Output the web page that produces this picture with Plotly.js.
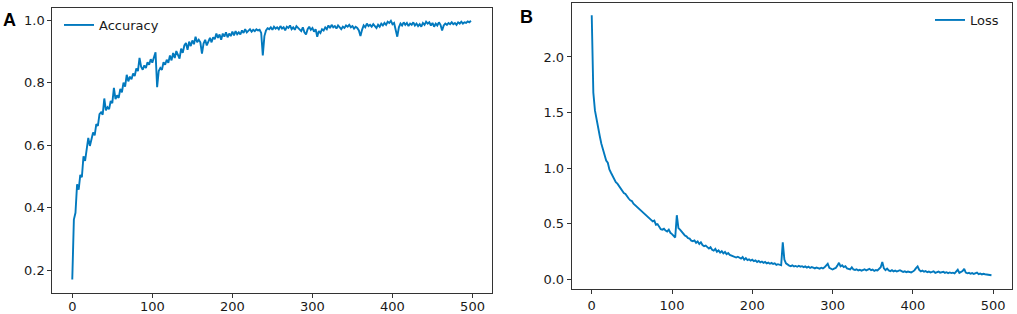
<!DOCTYPE html>
<html>
<head>
<meta charset="utf-8">
<script src="https://cdn.plot.ly/plotly-3.0.1.min.js"></script>
<style>
html,body{margin:0;padding:0;background:#fff;}
#chart{width:1017px;height:314px;}
</style>
</head>
<body>
<div id="chart"></div>
<script>
// ---- data ----
const epochs = [
  0,2,4,6,8,10,12,14,16,18,
  20,22,24,26,28,30,32,34,36,38,
  40,42,44,46,48,50,52,54,56,58,
  60,62,64,66,68,70,72,74,76,78,
  80,82,84,86,88,90,92,94,96,98,
  100,102,104,106,108,110,112,114,116,118,
  120,122,124,126,128,130,132,134,136,138,
  140,142,144,146,148,150,152,154,156,158,
  160,162,164,166,168,170,172,174,176,178,
  180,182,184,186,188,190,192,194,196,198,
  200,202,204,206,208,210,212,214,216,218,
  220,222,224,226,228,230,232,234,236,238,
  240,242,244,246,248,250,252,254,256,258,
  260,262,264,266,268,270,272,274,276,278,
  280,282,284,286,288,290,292,294,296,298,
  300,302,304,306,308,310,312,314,316,318,
  320,322,324,326,328,330,332,334,336,338,
  340,342,344,346,348,350,352,354,356,358,
  360,362,364,366,368,370,372,374,376,378,
  380,382,384,386,388,390,392,394,396,398,
  400,402,404,406,408,410,412,414,416,418,
  420,422,424,426,428,430,432,434,436,438,
  440,442,444,446,448,450,452,454,456,458,
  460,462,464,466,468,470,472,474,476,478,
  480,482,484,486,488,490,492,494,496,498
];

const accuracy = [
  0.170,0.362,0.384,0.475,0.458,0.505,0.498,0.565,0.550,0.590,
  0.624,0.598,0.625,0.641,0.632,0.668,0.662,0.700,0.706,0.698,
  0.750,0.712,0.722,0.716,0.742,0.735,0.784,0.748,0.760,0.752,
  0.781,0.770,0.801,0.788,0.826,0.805,0.820,0.812,0.830,0.822,
  0.846,0.838,0.880,0.852,0.842,0.856,0.848,0.866,0.858,0.876,
  0.865,0.886,0.898,0.786,0.838,0.848,0.842,0.866,0.858,0.874,
  0.864,0.888,0.872,0.896,0.880,0.902,0.888,0.878,0.910,0.896,
  0.920,0.928,0.906,0.932,0.918,0.936,0.924,0.948,0.930,0.938,
  0.930,0.894,0.926,0.938,0.920,0.934,0.944,0.930,0.946,0.940,
  0.958,0.944,0.955,0.938,0.958,0.948,0.962,0.946,0.958,0.950,
  0.964,0.952,0.966,0.956,0.962,0.955,0.968,0.960,0.972,0.962,
  0.966,0.972,0.964,0.970,0.966,0.972,0.968,0.970,0.960,0.888,
  0.950,0.968,0.975,0.972,0.978,0.970,0.980,0.974,0.978,0.972,
  0.982,0.974,0.978,0.968,0.980,0.976,0.984,0.972,0.978,0.970,
  0.982,0.976,0.972,0.966,0.978,0.962,0.955,0.972,0.980,0.970,
  0.976,0.964,0.972,0.948,0.966,0.960,0.972,0.968,0.978,0.972,
  0.984,0.976,0.986,0.978,0.982,0.974,0.984,0.978,0.972,0.980,
  0.976,0.984,0.980,0.986,0.978,0.982,0.974,0.980,0.976,0.968,
  0.950,0.970,0.984,0.978,0.990,0.982,0.986,0.980,0.988,0.982,
  0.976,0.986,0.980,0.990,0.984,0.992,0.986,0.996,0.992,0.999,
  0.988,0.992,0.972,0.948,0.978,0.990,0.984,0.994,0.986,0.992,
  0.982,0.990,0.986,0.994,0.984,0.990,0.982,0.988,0.980,0.992,
  0.986,0.996,0.990,0.994,0.984,0.992,0.980,0.990,0.984,0.994,
  0.986,0.968,0.984,0.990,0.986,0.992,0.988,0.994,0.988,0.992,
  0.986,0.994,0.990,0.996,0.990,0.994,0.992,0.997,0.994,0.999
];

const loss = [
  2.375,1.680,1.520,1.430,1.350,1.290,1.220,1.170,1.110,1.070,
  1.050,0.990,0.960,0.930,0.905,0.875,0.862,0.840,0.815,0.800,
  0.778,0.770,0.745,0.728,0.712,0.705,0.682,0.668,0.660,0.642,
  0.628,0.620,0.598,0.590,0.575,0.555,0.550,0.535,0.522,0.530,
  0.492,0.498,0.470,0.452,0.448,0.456,0.440,0.432,0.448,0.420,
  0.408,0.392,0.378,0.578,0.462,0.448,0.430,0.410,0.396,0.388,
  0.372,0.368,0.350,0.345,0.352,0.330,0.342,0.320,0.335,0.310,
  0.300,0.305,0.288,0.278,0.290,0.268,0.260,0.275,0.250,0.262,
  0.242,0.255,0.235,0.248,0.228,0.238,0.222,0.215,0.210,0.202,
  0.198,0.205,0.192,0.188,0.202,0.178,0.192,0.175,0.182,0.170,
  0.178,0.165,0.172,0.158,0.168,0.155,0.162,0.150,0.158,0.145,
  0.152,0.142,0.150,0.140,0.145,0.132,0.138,0.130,0.128,0.335,
  0.180,0.145,0.132,0.125,0.120,0.128,0.118,0.122,0.115,0.124,
  0.116,0.120,0.112,0.118,0.108,0.116,0.104,0.112,0.106,0.100,
  0.108,0.102,0.098,0.106,0.100,0.110,0.130,0.142,0.105,0.096,
  0.090,0.098,0.104,0.125,0.150,0.118,0.128,0.112,0.120,0.100,
  0.094,0.092,0.110,0.090,0.086,0.092,0.082,0.088,0.080,0.086,
  0.092,0.082,0.090,0.096,0.084,0.090,0.078,0.086,0.082,0.092,
  0.110,0.158,0.100,0.084,0.098,0.082,0.076,0.084,0.074,0.080,
  0.072,0.078,0.084,0.076,0.068,0.074,0.066,0.072,0.070,0.064,
  0.072,0.082,0.102,0.118,0.086,0.074,0.080,0.070,0.076,0.066,
  0.072,0.064,0.068,0.074,0.060,0.066,0.072,0.062,0.068,0.070,
  0.060,0.066,0.058,0.064,0.058,0.062,0.056,0.078,0.088,0.060,
  0.066,0.076,0.096,0.062,0.056,0.060,0.052,0.058,0.050,0.056,
  0.062,0.048,0.054,0.046,0.052,0.048,0.044,0.046,0.040,0.038
];

const xTicks = [0, 100, 200, 300, 400, 500];
const accTicks = [0.2, 0.4, 0.6, 0.8, 1.0];
const lossTicks = [0.0, 0.5, 1.0, 1.5, 2.0];
const panelLabels = ['A', 'B'];
const seriesNames = ['Accuracy', 'Loss'];

// ---- styling ----
const W = 1017, H = 314;
const LINE = '#0279be';
const AX = '#333333';
const tickFont = {family: 'DejaVu Sans', size: 13, color: '#1a1a1a'};

function px2x(p) { return p / W; }
function px2y(p) { return (H - p) / H; }

const baseAxis = {
  showline: true, mirror: true, linecolor: AX, linewidth: 1,
  ticks: 'outside', ticklen: 4, tickwidth: 1, tickcolor: AX,
  showgrid: false, zeroline: false, tickfont: tickFont, fixedrange: true
};

const traces = [
  {x: epochs, y: accuracy, type: 'scatter', mode: 'lines', name: seriesNames[0],
   line: {color: LINE, width: 1.9}, xaxis: 'x', yaxis: 'y', legend: 'legend'},
  {x: epochs, y: loss, type: 'scatter', mode: 'lines', name: seriesNames[1],
   line: {color: LINE, width: 1.9}, xaxis: 'x2', yaxis: 'y2', legend: 'legend2'}
];

const layout = {
  width: W, height: H,
  margin: {l: 0, r: 0, t: 0, b: 0},
  paper_bgcolor: '#ffffff', plot_bgcolor: '#ffffff',
  showlegend: true,
  xaxis: Object.assign({}, baseAxis, {
    domain: [px2x(52.3), px2x(491.7)], range: [-24.95, 523.95],
    tickvals: xTicks, anchor: 'y', ticklabelstandoff: -2
  }),
  yaxis: Object.assign({}, baseAxis, {
    domain: [px2y(292.5), px2y(7.5)], range: [0.1285, 1.0415],
    tickvals: accTicks, tickformat: '.1f', anchor: 'x'
  }),
  xaxis2: Object.assign({}, baseAxis, {
    domain: [px2x(571.7), px2x(1012.3)], range: [-24.95, 523.95],
    tickvals: xTicks, anchor: 'y2', ticklabelstandoff: 0
  }),
  yaxis2: Object.assign({}, baseAxis, {
    domain: [px2y(289), px2y(3)], range: [-0.085, 2.485],
    tickvals: lossTicks, tickformat: '.1f', anchor: 'x2'
  }),
  legend: {
    x: px2x(59), y: px2y(10), xanchor: 'left', yanchor: 'top',
    bgcolor: 'rgba(0,0,0,0)', borderwidth: 0,
    font: {family: 'DejaVu Sans', size: 13, color: '#1a1a1a'}
  },
  legend2: {
    x: px2x(930), y: px2y(5), xanchor: 'left', yanchor: 'top',
    bgcolor: 'rgba(0,0,0,0)', borderwidth: 0,
    font: {family: 'DejaVu Sans', size: 13, color: '#1a1a1a'}
  },
  annotations: [
    {text: '<b>' + panelLabels[0] + '</b>', xref: 'paper', yref: 'paper',
     x: px2x(1), y: px2y(20.3), xanchor: 'left', yanchor: 'middle', showarrow: false,
     font: {family: 'Liberation Sans', size: 18, color: '#000000'}},
    {text: '<b>' + panelLabels[1] + '</b>', xref: 'paper', yref: 'paper',
     x: px2x(518), y: px2y(17.3), xanchor: 'left', yanchor: 'middle', showarrow: false,
     font: {family: 'Liberation Sans', size: 18, color: '#000000'}}
  ]
};

Plotly.newPlot('chart', traces, layout, {displayModeBar: false, staticPlot: true});
</script>
</body>
</html>
